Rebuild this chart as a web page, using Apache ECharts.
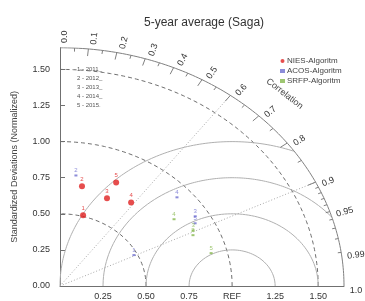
<!DOCTYPE html>
<html><head><meta charset="utf-8">
<script src="https://cdn.jsdelivr.net/npm/echarts@6/dist/echarts.min.js"></script>
<style>html,body{margin:0;padding:0;background:#fff}#c{width:365px;height:301px}</style>
</head><body><div id="c"></div>
<script>
// ---- data ----
const chartTitle = '5-year average (Saga)';
const yearLabels = ['1 - 2011_', '2 - 2012_', '3 - 2013_', '4 - 2014_', '5 - 2015.'];
const algorithms = ['NIES-Algoritm', 'ACOS-Algoritm', 'SRFP-Algoritm'];
const niesYears = ['1', '2', '3', '4', '5'];
const niesStd  = [0.508, 0.702, 0.666, 0.711, 0.788];
const niesCorr = [0.264, 0.182, 0.410, 0.581, 0.414];
const acosYears = ['1', '2', '3', '4', '5'];
const acosStd  = [0.480, 0.771, 0.922, 0.916, 0.897];
const acosCorr = [0.895, 0.120, 0.852, 0.742, 0.875];
const srfpYears = ['2', '3', '4', '5'];
const srfpStd  = [0.849, 0.864, 0.808, 0.907];
const srfpCorr = [0.910, 0.895, 0.820, 0.968];
const yTickValues = [0, 0.25, 0.5, 0.75, 1.0, 1.25, 1.5];
const xTickValues = [0.25, 0.5, 0.75, 1.0, 1.25, 1.5];
const refLabel = 'REF';
const corrLabelValues = [0, 0.1, 0.2, 0.3, 0.4, 0.5, 0.6, 0.7, 0.8, 0.9, 0.95, 0.99, 1.0];
const corrLabelTexts  = ['0.0','0.1','0.2','0.3','0.4','0.5','0.6','0.7','0.8','0.9','0.95','0.99','1.0'];
const bigTicks = [0.1,0.2,0.3,0.4,0.5,0.6,0.7,0.8,0.9];
const medTicks = [0.05,0.15,0.25,0.35,0.45,0.55,0.65,0.75,0.85,0.95];
const smallTicks = [0.91,0.92,0.93,0.94,0.96,0.97,0.98,0.99];
const stdArcs = [0.5, 1.0, 1.5];
const rmsCircles = [0.25, 0.5, 0.75, 1.0];
const corrRays = [0.6, 0.9];
const maxSd = 1.65;

// ---- helpers ----
const toXY = (s, c) => [s * c, s * Math.sqrt(Math.max(0, 1 - c * c))];
function arcPts(r) { const p = []; for (let i = 0; i <= 120; i++) { const t = i / 120 * Math.PI / 2; p.push([r * Math.cos(t), r * Math.sin(t)]); } return p; }
function rmsPts(r) { const p = []; for (let i = 0; i <= 180; i++) { const t = i / 180 * Math.PI; const x = 1 + r * Math.cos(t), y = r * Math.sin(t); if (x * x + y * y <= maxSd * maxSd && x >= 0) p.push([x, y]); } return p; }
const lineBase = { type: 'line', showSymbol: false, silent: true, animation: false, z: 1 };

const series = [];
series.push(Object.assign({}, lineBase, { data: arcPts(maxSd), lineStyle: { color: '#808080', width: 1 } }));
stdArcs.forEach(r => series.push(Object.assign({}, lineBase, { data: arcPts(r), lineStyle: { color: '#6e6e6e', width: 1, type: [4, 3] } })));
rmsCircles.forEach(r => series.push(Object.assign({}, lineBase, { data: rmsPts(r), lineStyle: { color: '#b0b0b0', width: 1 } })));
corrRays.forEach(c => series.push(Object.assign({}, lineBase, { data: [[0, 0], toXY(maxSd, c)], lineStyle: { color: '#a8a8a8', width: 1, type: [1, 2] } })));
const tickData = [];
bigTicks.forEach(c => tickData.push({ coords: [toXY(maxSd, c), toXY(maxSd * 0.97, c)] }));
medTicks.forEach(c => tickData.push({ coords: [toXY(maxSd, c), toXY(maxSd * 0.985, c)] }));
smallTicks.forEach(c => tickData.push({ coords: [toXY(maxSd, c), toXY(maxSd * 0.988, c)] }));
series.push({ type: 'lines', coordinateSystem: 'cartesian2d', silent: true, animation: false, data: tickData, lineStyle: { color: '#808080', width: 1, opacity: 1 } });

function pointSeries(name, years, std, corr, color, symbol, size) {
  return {
    type: 'scatter', name, z: 5, animation: false,
    symbol, symbolSize: size, itemStyle: { color },
    data: years.map((y, i) => ({ value: toXY(std[i], corr[i]), name: y })),
    label: { show: true, position: 'top', distance: 1, formatter: p => p.name, fontSize: 6, color, fontFamily: 'Liberation Sans' }
  };
}
series.push(pointSeries(algorithms[0], niesYears, niesStd, niesCorr, '#e02020', 'circle', 6));
series.push(pointSeries(algorithms[1], acosYears, acosStd, acosCorr, '#6f6fcf', 'rect', [3, 2]));
series.push(pointSeries(algorithms[2], srfpYears, srfpStd, srfpCorr, '#86b84e', 'rect', [3, 2]));

const axisColor = '#707070';
const font = 'Liberation Sans';
const option = {
  animation: false,
  backgroundColor: '#fff',
  title: { text: chartTitle, left: 139, top: 12, textStyle: { fontSize: 12, fontWeight: 'normal', color: '#333', fontFamily: font } },
  legend: {
    orient: 'vertical', left: 280, top: 57, itemWidth: 5, itemHeight: 4, itemGap: 2, padding: 0,
    textStyle: { fontSize: 8, color: '#444', fontFamily: font, padding: [0, 0, 0, -3] },
    data: [{ name: algorithms[0], icon: 'circle' }, { name: algorithms[1], icon: 'rect' }, { name: algorithms[2], icon: 'rect' }]
  },
  grid: { left: 60, top: 47.75, width: 284, height: 239.25 },
  xAxis: {
    type: 'value', min: 0, max: maxSd, splitLine: { show: false },
    axisLine: { show: true, onZero: false, lineStyle: { color: axisColor } },
    axisTick: { show: false },
    axisLabel: { customValues: xTickValues, formatter: v => Math.abs(v - 1) < 1e-9 ? refLabel : v.toFixed(2), fontSize: 9, color: '#333', margin: 6, fontFamily: font }
  },
  yAxis: {
    type: 'value', min: 0, max: maxSd, splitLine: { show: false },
    name: 'Standardized Deviations (Normalized)', nameLocation: 'middle', nameGap: 41, nameRotate: 90,
    nameTextStyle: { fontSize: 9, color: '#444', fontFamily: font },
    axisLine: { show: true, onZero: false, lineStyle: { color: axisColor } },
    axisTick: { show: true, inside: true, length: 5, customValues: yTickValues, lineStyle: { color: axisColor } },
    axisLabel: { customValues: yTickValues, formatter: v => v.toFixed(2), fontSize: 9, color: '#333', margin: 10, fontFamily: font }
  },
  series
};
const chart = echarts.init(document.getElementById('c'), null, { renderer: 'canvas' });
chart.setOption(option);

// decorations positioned through the grid's own scale
const graphic = [];
const origin = chart.convertToPixel({ gridIndex: 0 }, [0, 0]);
corrLabelValues.forEach((c, i) => {
  const p = chart.convertToPixel({ gridIndex: 0 }, toXY(maxSd * 1.02, c));
  const ang = Math.atan2(origin[1] - p[1], p[0] - origin[0]);
  graphic.push({ type: 'text', x: p[0], y: p[1], rotation: ang, silent: true,
    style: { text: corrLabelTexts[i], fontSize: 9, fill: '#333', fontFamily: font, align: 'left', verticalAlign: 'top', textAlign: 'left', textVerticalAlign: 'top' } });
});
const cp = chart.convertToPixel({ gridIndex: 0 }, toXY(maxSd * 1.13, 0.7));
graphic.push({ type: 'text', x: cp[0], y: cp[1], rotation: -38 * Math.PI / 180, silent: true,
  style: { text: 'Correlation', fontSize: 9, fill: '#444', fontFamily: font, align: 'center', verticalAlign: 'middle', textAlign: 'center', textVerticalAlign: 'middle' } });
yearLabels.forEach((t, i) => {
  graphic.push({ type: 'text', x: 77, y: 66 + i * 9, silent: true,
    style: { text: t, fontSize: 6, fill: '#555', fontFamily: font } });
});
chart.setOption({ graphic });
</script></body></html>
